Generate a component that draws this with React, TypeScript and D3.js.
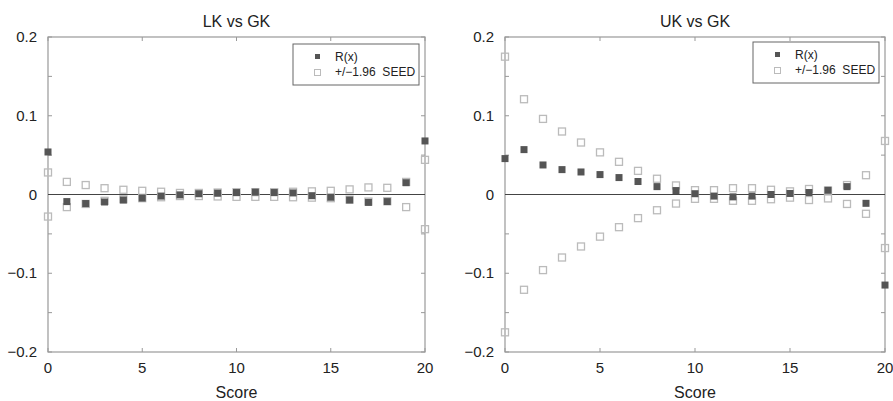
import React from "react";
import { useEffect, useRef } from "react";
import * as d3 from "d3";

// score values 0..20
const scores = d3.range(0, 21);

// LK vs GK
const lkR = [0.054, -0.009, -0.0115, -0.0095, -0.007, -0.0045, -0.002, -0.0005, 0.001, 0.0017, 0.0025, 0.003, 0.0025, 0.002, -0.0015, -0.0035, -0.007, -0.01, -0.009, 0.015, 0.068];
const lkSeed = [0.028, 0.016, 0.012, 0.008, 0.006, 0.0047, 0.0035, 0.002, 0.002, 0.0025, 0.003, 0.003, 0.003, 0.0035, 0.004, 0.0047, 0.0065, 0.009, 0.0085, 0.016, 0.044];

// UK vs GK
const ukR = [0.0456, 0.057, 0.0375, 0.0316, 0.0286, 0.0253, 0.0215, 0.0165, 0.010, 0.005, 0.001, -0.002, -0.003, -0.002, 0, 0.0013, 0.0025, 0.0054, 0.010, -0.0112, -0.115];
const ukSeed = [0.175, 0.121, 0.096, 0.080, 0.066, 0.0535, 0.0415, 0.030, 0.020, 0.0115, 0.0055, 0.0055, 0.008, 0.008, 0.006, 0.004, 0.007, 0.005, 0.012, 0.0245, 0.068];

const xTicks = [0, 5, 10, 15, 20];
const yTicks = [-0.2, -0.1, 0, 0.1, 0.2];
const yMinorTicks = [-0.2, -0.15, -0.1, -0.05, 0, 0.05, 0.1, 0.15, 0.2];
const legendLabels = ["R(x)", "+/\u22121.96  SEED"];

const panels = [
  { title: "LK vs GK", r: lkR, seed: lkSeed, left: 48, right: 425, legendX: 293, legendY: 44 },
  { title: "UK vs GK", r: ukR, seed: ukSeed, left: 505, right: 885, legendX: 753, legendY: 42 },
];

const fmt = (v: number) => (v === 0 ? "0" : d3.format(".1f")(v).replace("-", "\u2212"));

export default function App() {
  const svgRef = useRef<SVGSVGElement>(null);

  useEffect(() => {
    const width = 893;
    const height = 401;
    const top = 37;
    const bottom = 352;
    const font = "Liberation Sans, Arial, sans-serif";

    const svg = d3.select(svgRef.current).attr("width", width).attr("height", height);
    svg.selectAll("*").remove();

    panels.forEach((p) => {
      const x = d3.scaleLinear().domain([0, 20]).range([p.left, p.right]);
      const y = d3.scaleLinear().domain([-0.2, 0.2]).range([bottom, top]);
      const g = svg.append("g").attr("font-family", font);

      // box
      g.append("rect")
        .attr("x", p.left).attr("y", top)
        .attr("width", p.right - p.left).attr("height", bottom - top)
        .attr("fill", "none").attr("stroke", "#999").attr("stroke-width", 1.2);

      // inward ticks
      xTicks.forEach((t) => {
        g.append("line").attr("x1", x(t)).attr("x2", x(t)).attr("y1", bottom).attr("y2", bottom - 4).attr("stroke", "#999");
        g.append("line").attr("x1", x(t)).attr("x2", x(t)).attr("y1", top).attr("y2", top + 4).attr("stroke", "#999");
      });
      yMinorTicks.forEach((t) => {
        g.append("line").attr("x1", p.left).attr("x2", p.left + 4).attr("y1", y(t)).attr("y2", y(t)).attr("stroke", "#999");
        g.append("line").attr("x1", p.right).attr("x2", p.right - 4).attr("y1", y(t)).attr("y2", y(t)).attr("stroke", "#999");
      });

      // tick labels
      g.selectAll(".xl").data(xTicks).enter().append("text")
        .attr("x", (d) => x(d)).attr("y", 373)
        .attr("text-anchor", "middle").attr("font-size", 15).attr("fill", "#222")
        .text((d) => d);
      g.selectAll(".yl").data(yTicks).enter().append("text")
        .attr("x", p.left - 11).attr("y", (d) => y(d) + 5)
        .attr("text-anchor", "end").attr("font-size", 15).attr("fill", "#222")
        .text((d) => fmt(d));

      // zero line
      g.append("line")
        .attr("x1", p.left).attr("x2", p.right).attr("y1", y(0)).attr("y2", y(0))
        .attr("stroke", "#444").attr("stroke-width", 1.2);

      // title and x label
      g.append("text").attr("x", (p.left + p.right) / 2).attr("y", 27)
        .attr("text-anchor", "middle").attr("font-size", 16).attr("fill", "#222").text(p.title);
      g.append("text").attr("x", (p.left + p.right) / 2).attr("y", 398)
        .attr("text-anchor", "middle").attr("font-size", 16).attr("fill", "#222").text("Score");

      // SEED bounds (open squares)
      const s = 7;
      const bounds = scores.flatMap((d, i) => [[d, p.seed[i]], [d, -p.seed[i]]]);
      g.selectAll(".seed").data(bounds).enter().append("rect")
        .attr("x", (d) => x(d[0]) - s / 2).attr("y", (d) => y(d[1]) - s / 2)
        .attr("width", s).attr("height", s)
        .attr("fill", "none").attr("stroke", "#bbb").attr("stroke-width", 1.3);

      // R(x) (filled squares)
      g.selectAll(".rx").data(scores).enter().append("rect")
        .attr("x", (d) => x(d) - s / 2).attr("y", (d, i) => y(p.r[i]) - s / 2)
        .attr("width", s).attr("height", s)
        .attr("fill", "#555");

      // legend
      const lg = g.append("g").attr("transform", `translate(${p.legendX},${p.legendY})`);
      lg.append("rect").attr("width", 126).attr("height", 41)
        .attr("fill", "#fff").attr("stroke", "#666").attr("stroke-width", 1);
      lg.append("rect").attr("x", 22).attr("y", 10).attr("width", 5).attr("height", 5).attr("fill", "#555");
      lg.append("rect").attr("x", 21.5).attr("y", 25.5).attr("width", 6).attr("height", 6)
        .attr("fill", "none").attr("stroke", "#bbb");
      legendLabels.forEach((l, i) => {
        lg.append("text").attr("x", 42).attr("y", 16.5 + i * 15.5)
          .attr("font-size", 12).attr("fill", "#222")
          .attr("xml:space", "preserve").style("white-space", "pre").text(l);
      });
    });
  }, []);

  return (
    <svg ref={svgRef} style={{ position: "absolute", left: 0, top: 0, background: "#fff" }}></svg>
  );
}
